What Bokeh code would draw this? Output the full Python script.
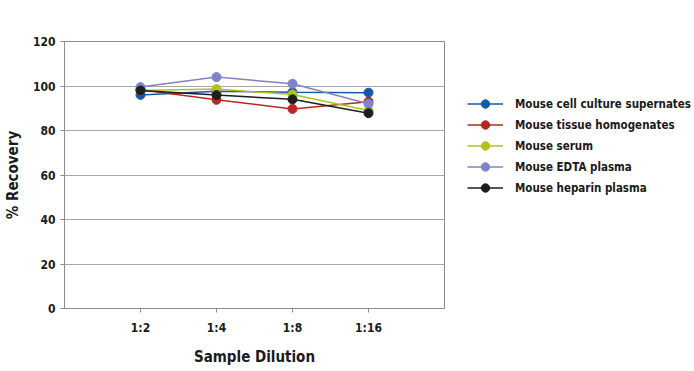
from bokeh.plotting import figure
from bokeh.models import Legend, LegendItem, FixedTicker, Range1d
from bokeh.embed import file_html
from bokeh.resources import INLINE

# Dilution steps and % recovery per sample type
dilutions = ["1:2", "1:4", "1:8", "1:16"]
cell_culture = [96, 97.6, 97.2, 97]
tissue_homog = [98.3, 93.8, 89.7, 92.9]
serum = [98, 98.6, 96.2, 89]
edta_plasma = [99.5, 104, 101, 92]
heparin_plasma = [98, 95.9, 94, 87.8]
y_ticks = [0, 20, 40, 60, 80, 100, 120]

series = [
    ("Mouse cell culture supernates", cell_culture, "#1558a3"),
    ("Mouse tissue homogenates", tissue_homog, "#b52a20"),
    ("Mouse serum", serum, "#b3c21a"),
    ("Mouse EDTA plasma", edta_plasma, "#8282c8"),
    ("Mouse heparin plasma", heparin_plasma, "#1e1e1e"),
]

FONT = "DejaVu Sans Condensed"
xs = list(range(1, len(dilutions) + 1))

p = figure(frame_width=380, frame_height=267, output_backend="svg",
           toolbar_location=None,
           x_range=Range1d(0, 5), y_range=Range1d(0, 120),
           min_border_left=62, min_border_right=252,
           min_border_top=41, min_border_bottom=63)

p.background_fill_color = "white"
p.border_fill_color = "white"
p.outline_line_color = "#8c8c8c"
p.outline_line_width = 1

p.xgrid.grid_line_color = None
p.ygrid.grid_line_color = "#a6a6a6"
p.ygrid.grid_line_width = 1

p.xaxis.ticker = FixedTicker(ticks=xs)
p.xaxis.major_label_overrides = {i: d for i, d in zip(xs, dilutions)}
p.yaxis.ticker = FixedTicker(ticks=y_ticks)

for ax in (p.xaxis, p.yaxis):
    ax.axis_line_color = "#8c8c8c"
    ax.major_tick_line_color = "#8c8c8c"
    ax.minor_tick_line_color = None
    ax.major_tick_in = 0
    ax.major_tick_out = 4
    ax.major_label_text_font = FONT
    ax.major_label_text_font_size = "12px"
    ax.major_label_text_font_style = "bold"
    ax.major_label_text_color = "#1a1a1a"
    ax.axis_label_text_font = FONT
    ax.axis_label_text_font_size = "15px"
    ax.axis_label_text_font_style = "bold"
    ax.axis_label_text_color = "#1a1a1a"

p.xaxis.axis_label = "Sample Dilution"
p.yaxis.axis_label = "% Recovery"
p.xaxis.major_label_standoff = 8
p.xaxis.axis_label_standoff = 10
p.yaxis.major_label_standoff = 5
p.yaxis.axis_label_standoff = 8

items = []
for name, vals, color in series:
    ln = p.line(xs, vals, line_color=color, line_width=1.5)
    dots = p.scatter(xs, vals, size=9, fill_color=color, line_color=color)
    items.append(LegendItem(label=name, renderers=[ln, dots]))

legend = Legend(items=items, location=(23, 110),
                label_text_font=FONT, label_text_font_size="11.5px",
                label_text_font_style="bold", label_text_color="#1a1a1a",
                glyph_width=36, glyph_height=21, label_height=21,
                spacing=0, padding=4, margin=0, label_standoff=12,
                border_line_color=None, background_fill_alpha=0)
p.add_layout(legend, "right")

open("out.html", "w").write(file_html(p, INLINE))
